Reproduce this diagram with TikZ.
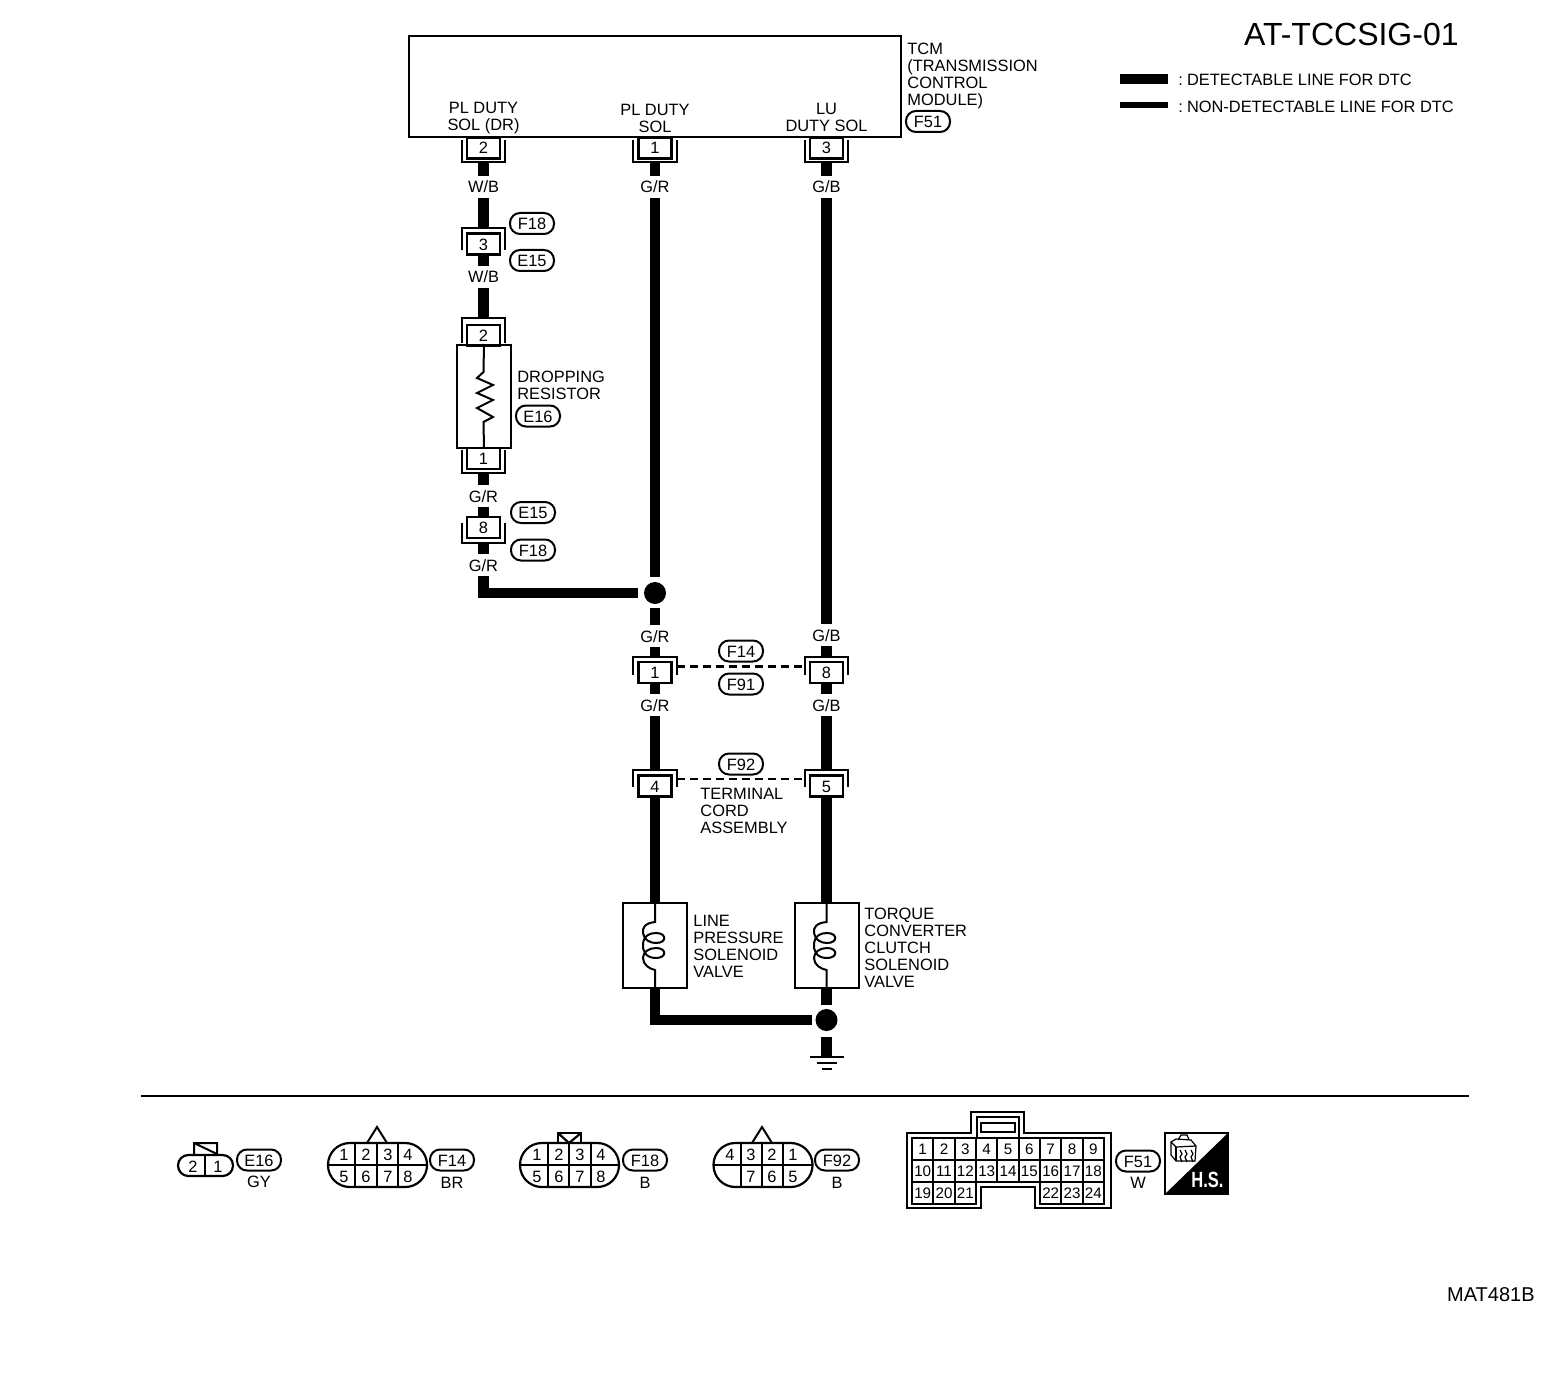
\documentclass[tikz,border=0pt]{standalone}
\usepackage{fontspec}
\setmainfont{Liberation Sans}
\usetikzlibrary{calc}
\tikzstyle{wire}=[line width=5.3pt]
\tikzstyle{thinwire}=[line width=1pt]
\tikzstyle{txt}=[inner sep=0pt,font=\fontsize{8.2}{8.5}\selectfont]
\tikzstyle{blocktxt}=[txt,anchor=west,align=left]
\tikzstyle{wlab}=[txt,minimum height=11pt,text height=6pt,text depth=0pt]
\tikzstyle{pin}=[rectangle,draw,fill=white,line width=1.2pt,inner sep=0pt,minimum width=16.5pt,minimum height=10.5pt,text height=6pt,text depth=0pt,font=\fontsize{8.2}{8.5}\selectfont]
\tikzstyle{shell}=[rectangle,inner sep=0pt,minimum width=21.5pt]
\tikzstyle{pill}=[rectangle,draw,rounded corners=5pt,line width=1pt,inner sep=0pt,minimum width=22pt,minimum height=10.5pt,text height=6pt,text depth=0pt,font=\fontsize{8.2}{8.5}\selectfont]
\tikzstyle{junction}=[circle,fill=black,inner sep=0pt,minimum size=11pt]
\tikzstyle{devbox}=[rectangle,draw,line width=1pt,inner sep=0pt,minimum width=32pt,minimum height=42.5pt]
\tikzstyle{plug}=[rectangle,draw,rounded corners=10.9pt,line width=1.1pt,inner sep=0pt,minimum width=49.5pt,minimum height=22pt]
\tikzstyle{num}=[txt,text height=6pt,text depth=0pt]
\tikzstyle{cell}=[rectangle,draw,line width=1.1pt,inner sep=0pt,minimum width=10.67pt,minimum height=11pt,text height=5.6pt,text depth=0pt,font=\fontsize{7.6}{8}\selectfont]
\newcommand{\shelldown}[1]{\draw[line width=1pt] (#1.north west) -- (#1.south west) -- (#1.south east) -- (#1.north east);}
\newcommand{\shellup}[1]{\draw[line width=1pt] (#1.south west) -- (#1.north west) -- (#1.north east) -- (#1.south east);}
\begin{document}
\begin{tikzpicture}[x=0.5pt,y=-0.5pt]
	\useasboundingbox (0,0) rectangle (1568,1396);
	\def \cola {483.5};
	\def \colb {655};
	\def \colc {826.5};

	\node[rectangle,draw,line width=1.2pt,minimum width=246pt,minimum height=50.5pt,inner sep=0pt] (tcm) at (655,86.5) {};
	\node[txt,align=center] (pla) at (\cola,118.5) {PL DUTY\\SOL (DR)};
	\node[txt,align=center] (plb) at (\colb,118) {PL DUTY\\SOL};
	\node[txt,align=center] (plc) at (\colc,117.5) {LU\\DUTY SOL};
	\node[blocktxt] (tcmlab) at (907,76) {TCM\\(TRANSMISSION\\CONTROL\\MODULE)};
	\node[pill] (f51) at (928,121.5) {F51};

	\node[shell,minimum height=11pt] (sa1) at (\cola,151) {};
	\node[shell,minimum height=11pt] (sb1) at (\colb,151) {};
	\node[shell,minimum height=11pt] (sc1) at (\colc,151) {};
	\shelldown{sa1} \shelldown{sb1} \shelldown{sc1}
	\node[pin] (pa1) at (\cola,148) {2};
	\node[pin] (pb1) at (\colb,148) {1};
	\node[pin] (pc1) at (\colc,148) {3};
	\node[wlab] (wa1) at (\cola,187) {W/B};
	\node[wlab] (wb1) at (\colb,187) {G/R};
	\node[wlab] (wc1) at (\colc,187) {G/B};

	\node[shell,minimum height=11pt] (sa2) at (\cola,239) {};
	\shellup{sa2}
	\node[pin] (pa2) at (\cola,244) {3};
	\node[pill] (f18a) at (532,223.5) {F18};
	\node[pill] (e15a) at (532,260.5) {E15};
	\node[wlab] (wa2) at (\cola,277) {W/B};

	\node[shell,minimum height=12.5pt] (sa3) at (\cola,330.5) {};
	\shellup{sa3}
	\node[pin] (pa3) at (\cola,335.5) {2};
	\node[devbox,minimum width=27pt,minimum height=51.5pt] (res) at (484,396.5) {};
	\draw[thinwire] (res.north) -- (483.5,372) -- (477,378) -- (493,385) -- (477,393) -- (493,400) -- (477,408) -- (493,417) -- (483.5,422) -- (res.south);
	\node[blocktxt] (reslab) at (517,385.5) {DROPPING\\RESISTOR};
	\node[pill] (e16a) at (538,416) {E16};
	\node[shell,minimum height=11.5pt] (sa4) at (\cola,461.5) {};
	\shelldown{sa4}
	\node[pin] (pa4) at (\cola,458.5) {1};
	\node[wlab] (wa4) at (\cola,496) {G/R};
	\node[shell,minimum height=10pt] (sa5) at (\cola,533) {};
	\shelldown{sa5}
	\node[pin] (pa5) at (\cola,527.5) {8};
	\node[pill] (e15b) at (533,512.5) {E15};
	\node[pill] (f18b) at (533,550) {F18};
	\node[wlab] (wa5) at (\cola,565) {G/R};

	\node[junction] (dota) at (\colb,593) {};
	\node[wlab] (wb2) at (\colb,636) {G/R};
	\node[wlab] (wc2) at (\colc,635) {G/B};
	\node[shell,minimum height=9pt] (sb3) at (\colb,666) {};
	\node[shell,minimum height=9pt] (sc3) at (\colc,666) {};
	\shellup{sb3} \shellup{sc3}
	\node[pin] (pb3) at (\colb,672.5) {1};
	\node[pin] (pc3) at (\colc,672.5) {8};
	\node[pill] (f14) at (741,651) {F14};
	\node[pill] (f91) at (741,684) {F91};
	\node[wlab] (wb3) at (\colb,705) {G/R};
	\node[wlab] (wc3) at (\colc,705) {G/B};

	\node[shell,minimum height=8.5pt] (sb4) at (\colb,778.5) {};
	\node[shell,minimum height=8.5pt] (sc4) at (\colc,778.5) {};
	\shellup{sb4} \shellup{sc4}
	\node[pin] (pb4) at (\colb,786) {4};
	\node[pin] (pc4) at (\colc,786) {5};
	\node[pill] (f92) at (741,764) {F92};
	\node[blocktxt] (cordlab) at (700,811) {TERMINAL\\CORD\\ASSEMBLY};

	\node[devbox] (sola) at (655,945.5) {};
	\node[devbox] (solc) at (\colc,945.5) {};
	\node[blocktxt] (solalab) at (693,946) {LINE\\PRESSURE\\SOLENOID\\VALVE};
	\node[blocktxt] (solclab) at (864,947.5) {TORQUE\\CONVERTER\\CLUTCH\\SOLENOID\\VALVE};
	\node[junction] (dotb) at (\colc,1020) {};
	\coordinate (gnd) at (\colc,1057);

	\draw[wire] (sa1.south) -- (wa1.north);
	\draw[wire] (sb1.south) -- (wb1.north);
	\draw[wire] (sc1.south) -- (wc1.north);
	\draw[wire] (wa1.south) -- (sa2.north);
	\draw[wire] (pa2.south) -- (wa2.north);
	\draw[wire] (wa2.south) -- (sa3.north);
	\draw[wire] (sa4.south) -- (wa4.north);
	\draw[wire] (wa4.south) -- (pa5.north);
	\draw[wire] (sa5.south) -- (wa5.north);
	\draw[wire,shorten >=3pt] (wa5.south) |- (dota.west);
	\draw[wire,shorten >=2.5pt] (wb1.south) -- (dota.north);
	\draw[wire,shorten <=2pt] (dota.south) -- (wb2.north);
	\draw[wire] (wc1.south) -- (wc2.north);
	\draw[wire] (wb2.south) -- (sb3.north);
	\draw[wire] (wc2.south) -- (sc3.north);
	\draw[wire] (pb3.south) -- (wb3.north);
	\draw[wire] (pc3.south) -- (wc3.north);
	\draw[wire] (wb3.south) -- (sb4.north);
	\draw[wire] (wc3.south) -- (sc4.north);
	\draw[wire] (pb4.south) -- (sola.north);
	\draw[wire] (pc4.south) -- (solc.north);
	\draw[wire,shorten >=1.5pt] (sola.south) |- (dotb.west);
	\draw[wire,shorten >=2pt] (solc.south) -- (dotb.north);
	\draw[wire,shorten <=3pt] (dotb.south) -- (gnd);

	\draw[line width=1.5pt,dash pattern=on 4pt off 2.5pt] (sb3.east) -- (sc3.west);
	\draw[line width=1pt,dash pattern=on 4pt off 2.5pt] (sb4.east) -- (sc4.west);

	\draw[thinwire] (sola.north) -- (655,922) .. controls (645,923) and (642,928) .. (643,933) .. controls (644,940) and (650,943) .. (656,943) .. controls (667,943) and (667,933) .. (656,933) .. controls (649,933) and (644,936) .. (643,943) .. controls (642,950) and (645,958) .. (656,958) .. controls (667,958) and (667,948) .. (656,948) .. controls (649,948) and (643,952) .. (643,958) .. controls (643,965) and (650,969) .. (655,970) -- (sola.south);
	\draw[thinwire] (solc.north) -- (826.5,922) .. controls (816,923) and (813,928) .. (814,933) .. controls (815,940) and (821,943) .. (827,943) .. controls (838,943) and (838,933) .. (827,933) .. controls (820,933) and (815,936) .. (814,943) .. controls (813,950) and (816,958) .. (827,958) .. controls (838,958) and (838,948) .. (827,948) .. controls (820,948) and (814,952) .. (814,958) .. controls (814,965) and (821,969) .. (826.5,970) -- (solc.south);

	\draw[line width=1pt] ($(gnd)+(-17,0)$) -- ($(gnd)+(17,0)$);
	\draw[line width=1pt] ($(gnd)+(-10,6)$) -- ($(gnd)+(10,6)$);
	\draw[line width=1pt] ($(gnd)+(-5,12)$) -- ($(gnd)+(5,12)$);

	\node[inner sep=0pt,anchor=east,font=\fontsize{16}{16}\selectfont] (title) at (1459,34) {AT-TCCSIG-01};
	\node[fill=black,inner sep=0pt,minimum width=24pt,minimum height=5pt] (legthick) at (1144,79.5) {};
	\node[fill=black,inner sep=0pt,minimum width=24pt,minimum height=3pt] (legthin) at (1144,105) {};
	\node[blocktxt] (legtxta) at (1178,80) {:\hspace{-1pt} DETECTABLE LINE FOR DTC};
	\node[blocktxt] (legtxtb) at (1178,107) {:\hspace{-1pt} NON-DETECTABLE LINE FOR DTC};

	\draw[line width=1pt] (141,1096) -- (1469,1096);
	\node[inner sep=0pt,anchor=east,font=\fontsize{10}{10}\selectfont] (code) at (1535,1295) {MAT481B};

	\node[plug,minimum width=27.5pt,minimum height=10.5pt,rounded corners=5.2pt] (cone) at (205.5,1165.5) {};
	\draw[line width=1.1pt] (205,1155) -- (205,1176);
	\draw[line width=1pt] (194,1154) -- (194,1143) -- (217,1143) -- (217,1154) -- (194,1143);
	\node[num] (e2) at (193,1166) {2};
	\node[num] (e1) at (218,1166) {1};
	\node[pill] (e16b) at (259,1160) {E16};
	\node[wlab] (gy) at (259,1181) {GY};

	\node[plug] (cona) at (377.5,1165) {};
	\draw[line width=1.1pt] (328,1165) -- (427,1165);
	\draw[line width=1.1pt] (355,1143) -- (355,1187);
	\draw[line width=1pt] (377,1143) -- (377,1187);
	\draw[line width=1.1pt] (398,1143) -- (398,1187);
	\draw[line width=1pt] (367,1143) -- (377,1127) -- (387,1143);
	\node[num] (a1) at (344,1154) {1};
	\node[num] (a2) at (366,1154) {2};
	\node[num] (a3) at (388,1154) {3};
	\node[num] (a4) at (408,1154) {4};
	\node[num] (a5) at (344,1176) {5};
	\node[num] (a6) at (366,1176) {6};
	\node[num] (a7) at (388,1176) {7};
	\node[num] (a8) at (408,1176) {8};
	\node[pill] (f14b) at (452,1160) {F14};
	\node[wlab] (br) at (452,1182) {BR};

	\node[plug] (conb) at (569.5,1165) {};
	\draw[line width=1.1pt] (521,1165) -- (618,1165);
	\draw[line width=1.1pt] (548,1143) -- (548,1187);
	\draw[line width=1.1pt] (569,1143) -- (569,1187);
	\draw[line width=1.1pt] (591,1143) -- (591,1187);
	\draw[line width=1.1pt] (558,1143) -- (558,1133) -- (581,1133) -- (581,1143);
	\draw[line width=1.1pt] (558,1133) -- (569,1143) -- (581,1133);
	\node[num] (b1) at (537,1154) {1};
	\node[num] (b2) at (559,1154) {2};
	\node[num] (b3) at (580,1154) {3};
	\node[num] (b4) at (601,1154) {4};
	\node[num] (b5) at (537,1176) {5};
	\node[num] (b6) at (559,1176) {6};
	\node[num] (b7) at (580,1176) {7};
	\node[num] (b8) at (601,1176) {8};
	\node[pill] (f18c) at (645,1160) {F18};
	\node[wlab] (bb) at (645,1182) {B};

	\node[plug] (cond) at (763,1165) {};
	\draw[line width=1.1pt] (714,1165) -- (812,1165);
	\draw[line width=1.1pt] (741,1143) -- (741,1187);
	\draw[line width=1pt] (762,1143) -- (762,1187);
	\draw[line width=1.1pt] (783,1143) -- (783,1187);
	\draw[line width=1pt] (752,1143) -- (762,1127) -- (772,1143);
	\node[num] (d4) at (730,1154) {4};
	\node[num] (d3) at (751,1154) {3};
	\node[num] (d2) at (772,1154) {2};
	\node[num] (d1) at (793,1154) {1};
	\node[num] (d7) at (751,1176) {7};
	\node[num] (d6) at (772,1176) {6};
	\node[num] (d5) at (793,1176) {5};
	\node[pill] (f92b) at (837,1160) {F92};
	\node[wlab] (bd) at (837,1182) {B};

	\draw[line width=1pt] (907,1133) -- (971,1133) -- (971,1112) -- (1024,1112) -- (1024,1133) -- (1111,1133) -- (1111,1208) -- (1035,1208) -- (1035,1187) -- (981,1187) -- (981,1208) -- (907,1208) -- cycle;
	\draw[line width=1.3pt] (977,1138) -- (977,1117) -- (1019,1117) -- (1019,1138);
	\draw[line width=1.3pt] (981,1123) rectangle (1015,1132);
	\def \rowa {1149};
	\def \rowb {1171};
	\def \rowc {1193};
	\node[cell] (c1) at (922.7,\rowa) {1};
	\node[cell] (c2) at (944,\rowa) {2};
	\node[cell] (c3) at (965.3,\rowa) {3};
	\node[cell] (c4) at (986.7,\rowa) {4};
	\node[cell] (c5) at (1008,\rowa) {5};
	\node[cell] (c6) at (1029.3,\rowa) {6};
	\node[cell] (c7) at (1050.7,\rowa) {7};
	\node[cell] (c8) at (1072,\rowa) {8};
	\node[cell] (c9) at (1093.3,\rowa) {9};
	\node[cell] (c10) at (922.7,\rowb) {10};
	\node[cell] (c11) at (944,\rowb) {11};
	\node[cell] (c12) at (965.3,\rowb) {12};
	\node[cell] (c13) at (986.7,\rowb) {13};
	\node[cell] (c14) at (1008,\rowb) {14};
	\node[cell] (c15) at (1029.3,\rowb) {15};
	\node[cell] (c16) at (1050.7,\rowb) {16};
	\node[cell] (c17) at (1072,\rowb) {17};
	\node[cell] (c18) at (1093.3,\rowb) {18};
	\node[cell] (c19) at (922.7,\rowc) {19};
	\node[cell] (c20) at (944,\rowc) {20};
	\node[cell] (c21) at (965.3,\rowc) {21};
	\node[cell] (c22) at (1050.7,\rowc) {22};
	\node[cell] (c23) at (1072,\rowc) {23};
	\node[cell] (c24) at (1093.3,\rowc) {24};
	\node[pill] (f51b) at (1138,1161) {F51};
	\node[wlab] (ww) at (1138,1182) {W};

	\draw[line width=0.8pt] (1165,1133) rectangle (1228,1194);
	\fill[black] (1228,1133) -- (1228,1194) -- (1165,1194) -- cycle;
	\draw[line width=0.6pt] (1171,1142) -- (1171,1155) -- (1176,1161) -- (1195,1161) -- (1196,1146) -- (1191,1140) -- (1176,1139) -- (1171,1142) -- (1176,1147) -- (1196,1146);
	\draw[line width=0.6pt] (1176,1147) -- (1176,1161);
	\draw[line width=0.6pt] (1178,1140) -- (1181,1135) -- (1187,1135) -- (1189,1140);
	\draw[line width=0.6pt] (1180,1150) -- (1182,1154) -- (1180,1157) -- (1182,1162);
	\draw[line width=0.6pt] (1185,1150) -- (1187,1154) -- (1185,1157) -- (1187,1162);
	\draw[line width=0.6pt] (1191,1150) -- (1193,1154) -- (1191,1157) -- (1193,1162);
	\node[inner sep=0pt,text=white,font=\bfseries\fontsize{11}{11}\selectfont] (hs) at (1207.5,1179.5) {\scalebox{0.75}[1]{H.S.}};
\end{tikzpicture}
\end{document}
